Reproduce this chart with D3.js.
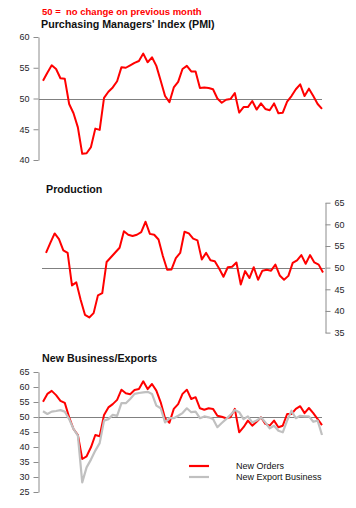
<!DOCTYPE html>
<html>
<head>
<meta charset="utf-8">
<script src="https://cdn.jsdelivr.net/npm/d3@7"></script>
<style>
  html, body { margin: 0; padding: 0; background: #fff; }
  svg { display: block; font-family: "Liberation Sans", Arial, sans-serif; }
</style>
</head>
<body>
<svg id="chart" width="356" height="508"></svg>
<script>
// ---- data (monthly index values, 65 months) ----
const pmi = [52.9,54.2,55.4,54.8,53.3,53.2,49.1,47.6,45.3,41.0,41.1,42.1,45.1,44.9,50.1,51.1,51.8,52.8,55.1,55.0,
  55.4,55.8,56.1,57.3,55.9,56.7,55.3,52.9,50.4,49.4,51.8,52.7,54.8,55.3,54.4,54.4,51.7,51.8,51.7,51.5,
  50.0,49.3,49.8,49.9,50.9,47.7,48.6,48.6,49.6,48.2,49.2,48.3,48.1,49.2,47.6,47.7,49.5,50.4,51.5,52.3,
  50.4,51.6,50.4,49.1,48.3];
const production = [53.4,55.7,57.9,56.6,54.0,53.4,45.9,46.6,42.6,39.1,38.5,39.5,43.6,44.1,51.3,52.4,53.5,54.6,58.4,57.6,
  57.3,57.6,58.2,60.6,57.8,57.6,56.5,52.7,49.5,49.6,52.2,53.4,58.3,57.9,56.7,56.3,51.9,53.4,51.7,51.5,
  49.8,47.9,50.1,50.2,51.2,46.1,49.2,47.6,50.1,47.2,49.3,49.5,49.3,50.7,48.2,47.2,48.1,51.1,51.7,52.9,
  50.9,52.9,51.2,50.7,48.9];
const newOrders = [55.1,57.7,58.7,57.3,55.4,54.7,49.9,46.0,44.0,36.0,36.9,39.9,44.0,43.6,50.7,53.2,54.3,55.7,59.1,57.9,
  57.6,59.0,59.3,61.9,59.3,61.0,58.8,54.9,49.6,48.1,52.7,54.3,57.7,59.1,56.0,56.6,52.9,52.4,52.9,52.7,
  50.4,50.1,49.6,49.9,52.7,44.9,46.6,48.8,47.1,48.4,49.9,47.7,47.1,48.8,46.6,47.1,51.0,51.0,52.7,53.6,
  51.3,53.0,51.3,49.3,47.3];
const newExport = [51.9,51.0,51.8,52.0,52.3,51.8,49.3,46.0,43.8,28.2,33.2,35.8,38.8,41.3,48.8,49.3,50.7,50.4,54.6,54.6,
  56.0,57.7,58.0,58.2,58.4,57.7,53.8,52.9,48.2,49.6,49.6,50.4,51.3,52.9,51.6,51.8,49.6,50.2,49.9,49.3,
  46.6,48.0,49.3,50.7,52.3,51.6,49.3,50.2,48.2,48.8,49.9,48.2,46.2,47.1,45.4,44.9,48.8,52.1,49.6,50.4,
  50.2,50.2,48.4,48.8,44.0];
const ticksPmi = [40,45,50,55,60];
const ticksProd = [35,40,45,50,55,60,65];
const ticksNb = [25,30,35,40,45,50,55,60,65];
const legendLabels = ["New Orders","New Export Business"];

// ---- drawing ----
const svg = d3.select("#chart");
const RED = "#ff0000", GREY = "#c0c0c0", AXIS = "#8c8c8c";

function styleAxis(g) {
  g.selectAll("path.domain").attr("stroke", AXIS).attr("stroke-width", 1);
  g.selectAll(".tick line").attr("stroke", AXIS);
  g.selectAll(".tick text").attr("fill", "#1e1e2a").attr("font-size", "9px")
    .attr("font-family", "Liberation Sans, Arial, sans-serif");
}

function panel(opts) {
  const x = d3.scaleLinear().domain([0, opts.series[0].values.length - 1]).range(opts.xr);
  const y = d3.scaleLinear().domain(opts.domain).range(opts.yr);
  const axis = (opts.side === "right" ? d3.axisRight(y) : d3.axisLeft(y))
    .tickValues(opts.ticks).tickSizeInner(5).tickSizeOuter(0).tickPadding(4);
  const ga = svg.append("g").attr("transform", `translate(${opts.axisX},0)`).call(axis);
  styleAxis(ga);
  // 50 reference line
  svg.append("line").attr("x1", opts.refX[0]).attr("x2", opts.refX[1])
    .attr("y1", Math.round(y(50)) + 0.5).attr("y2", Math.round(y(50)) + 0.5)
    .attr("stroke", "#808080").attr("stroke-width", 1);
  const line = d3.line().x((d, i) => x(i)).y(d => y(d));
  opts.series.forEach(s => {
    svg.append("path").datum(s.values).attr("d", line)
      .attr("fill", "none").attr("stroke", s.color).attr("stroke-width", s.width)
      .attr("stroke-linejoin", "round");
  });
  svg.append("text").attr("x", opts.titleX).attr("y", opts.titleY)
    .attr("font-size", "10.7px").attr("font-weight", "bold").attr("fill", "#111")
    .text(opts.title);
}

svg.append("text").attr("x", 42).attr("y", 15).attr("font-size", "9.5px")
  .attr("font-weight", "bold").attr("fill", RED).attr("xml:space", "preserve")
  .text("50 =  no change on previous month");

panel({
  title: "Purchasing Managers' Index (PMI)", titleX: 41, titleY: 28,
  series: [{ values: pmi, color: RED, width: 2 }],
  xr: [43, 322], domain: [40, 60], yr: [160, 37], ticks: ticksPmi,
  side: "left", axisX: 38.5, refX: [39, 322]
});

panel({
  title: "Production", titleX: 46, titleY: 193,
  series: [{ values: production, color: RED, width: 2 }],
  xr: [46, 323], domain: [35, 65], yr: [332.6, 202.7], ticks: ticksProd,
  side: "right", axisX: 325.5, refX: [42, 325]
});

panel({
  title: "New Business/Exports", titleX: 42, titleY: 362,
  series: [{ values: newOrders, color: RED, width: 2 }, { values: newExport, color: GREY, width: 2.2 }],
  xr: [43, 322], domain: [25, 65], yr: [492, 372], ticks: ticksNb,
  side: "left", axisX: 38.5, refX: [39, 322]
});

// legend
const legColors = [RED, GREY];
legendLabels.forEach((lab, i) => {
  const ly = 466 + i * 11;
  svg.append("line").attr("x1", 189).attr("x2", 209).attr("y1", ly).attr("y2", ly)
    .attr("stroke", legColors[i]).attr("stroke-width", 2.2);
  svg.append("text").attr("x", 236).attr("y", ly + 3.2).attr("font-size", "9px")
    .attr("fill", "#111").text(lab);
});
</script>
</body>
</html>
